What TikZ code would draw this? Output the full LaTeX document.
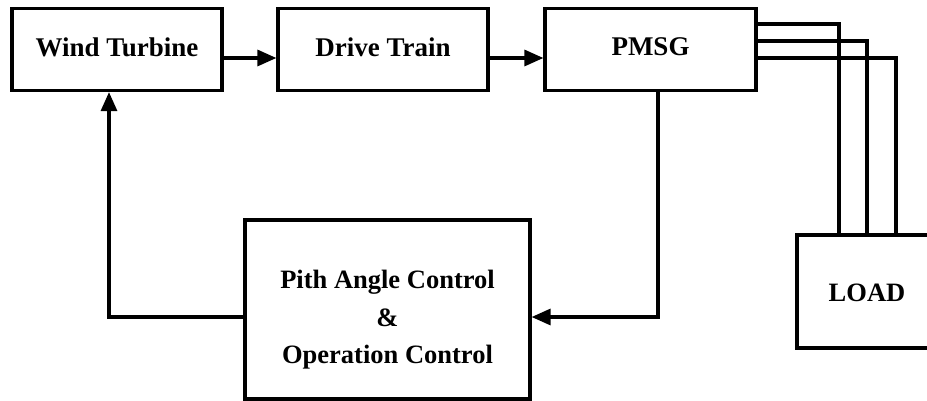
\documentclass[tikz,border=0pt]{standalone}
\usepackage{fontspec}
\setmainfont{Liberation Serif}
\usetikzlibrary{arrows.meta}
% shift text vertically inside a box while keeping its measured size
\newcommand{\nudge}[2]{\raisebox{#1}[\height][\depth]{#2}}
\tikzset{
  block/.style={draw, line width=3.2pt, rectangle, align=center,
    font=\fontsize{27}{37.5}\selectfont\bfseries, inner sep=0pt},
  smalltext/.style={font=\fontsize{26.5}{37.5}\selectfont\bfseries},
  wire/.style={line width=3.2pt},
  flow/.style={wire, -{Triangle[length=19pt,width=16pt]}}
}
\begin{document}
\begin{tikzpicture}[x=1pt,y=-1pt]
  \clip (0,0) rectangle (927,401);
  \fill[white] (0,0) rectangle (927,401);

  % forward chain
  \node[block, minimum width=210pt, minimum height=82pt] (wt) at (117,49.5)
    {\nudge{2.5pt}{Wind Turbine}};
  \node[block, minimum width=210pt, minimum height=82pt] (dt) at (383,49.5)
    {\nudge{2.5pt}{Drive Train}};
  \node[block, minimum width=211pt, minimum height=82pt] (pmsg) at (650.5,49.5)
    {\nudge{2.5pt}{PMSG}};

  % controller and load
  \node[block, smalltext, minimum width=285pt, minimum height=179pt] (ctrl) at (387.5,309.5)
    {\nudge{-9pt}{\begin{tabular}{@{}c@{}}Pith Angle Control\\\&\\Operation Control\end{tabular}}};
  \node[block, smalltext, minimum width=140pt, minimum height=113pt] (load) at (867,291.5)
    {\nudge{-1.5pt}{LOAD}};

  % mechanical path
  \draw[flow] ([yshift=-8.5pt]wt.east) -- ([yshift=-8.5pt]dt.west);
  \draw[flow] ([yshift=-8.5pt]dt.east) -- ([yshift=-8.5pt]pmsg.west);

  % three-phase output to the load
  \draw[wire] (pmsg.east |- 0,24) -| (load.north -| 839,0);
  \draw[wire] (pmsg.east |- 0,41) -| (load.north -| 867,0);
  \draw[wire] (pmsg.east |- 0,58) -| (load.north -| 896,0);

  % control loop
  \draw[flow] ([xshift=7.5pt]pmsg.south) |- ([yshift=-7.5pt]ctrl.east);
  \draw[flow] ([yshift=-7.5pt]ctrl.west) -| ([xshift=-8pt]wt.south);
\end{tikzpicture}
\end{document}
